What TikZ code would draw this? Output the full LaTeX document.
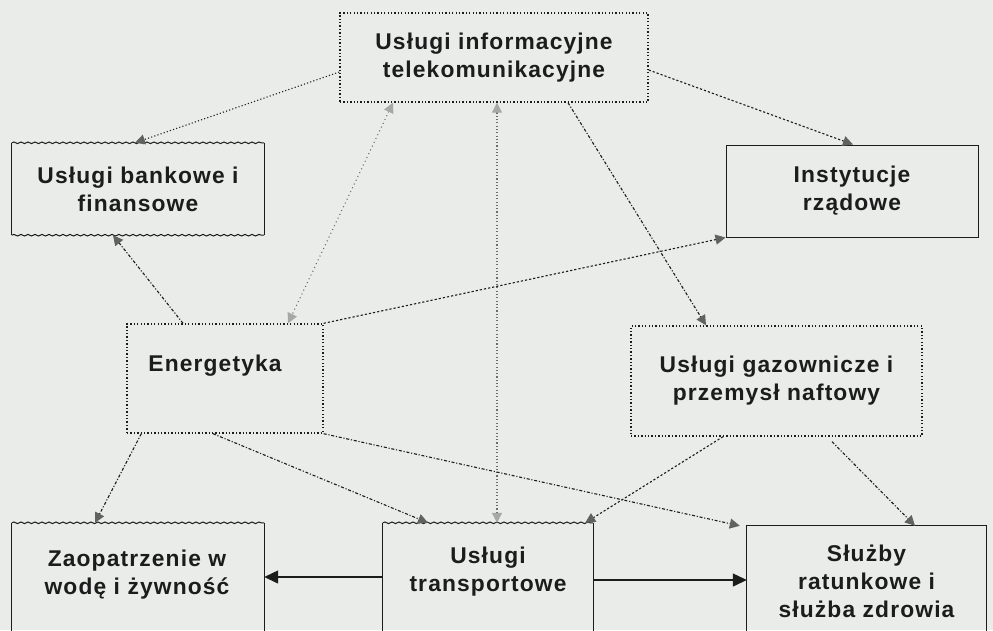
\documentclass[tikz,border=0pt]{standalone}
\usepackage{fontspec}
\setmainfont{Liberation Sans}[LetterSpace=5]
\usetikzlibrary{arrows.meta,decorations.pathmorphing,calc}
\definecolor{paper}{RGB}{233,236,233}
\definecolor{ink}{RGB}{28,28,28}
\definecolor{headdark}{RGB}{95,98,96}
\definecolor{headlight}{RGB}{165,168,166}
\begin{document}
\begin{tikzpicture}[x=1pt,y=-1pt,
  txt/.style={font=\bfseries\fontsize{22.8}{28}\selectfont, text=ink, align=center},
  boxbase/.style={inner sep=0pt, minimum width=#1},
  dotbox/.style={draw=ink, line width=1.4pt, dash pattern=on 1.3pt off 2.1pt},
  solidbox/.style={draw=ink, line width=1pt},
  wave/.style={draw=ink, line width=1pt, decorate, decoration={snake, amplitude=0.8pt, segment length=7pt}},
  link/.style={draw=ink, line width=1.1pt, -{Triangle[length=10pt,width=10pt,color=headdark]}},
  linklight/.style={draw=ink!65, line width=1.1pt, {Triangle[length=10pt,width=10pt,color=headlight]}-{Triangle[length=10pt,width=10pt,color=headlight]}},
  dots/.style={dash pattern=on 1.1pt off 2.2pt},
  sparse/.style={dash pattern=on 1pt off 3.2pt},
  dashes/.style={dash pattern=on 2.2pt off 2pt},
  dashdot/.style={dash pattern=on 3pt off 1.8pt on 1.1pt off 1.8pt},
  flow/.style={draw=ink, line width=1.2pt, -{Triangle[length=14pt,width=13pt]}}
]
\path[use as bounding box, fill=paper] (0,0) rectangle (993,630);
\clip (0,0) rectangle (993,630);

% boxes
\node[boxbase=308pt, minimum height=89pt, dotbox, txt] (top) at (494,57.5)
  {Usługi informacyjne\\telekomunikacyjne};
\node[boxbase=252pt, minimum height=92pt, txt] (bank) at (138,189)
  {Usługi bankowe i\\finansowe};
\node[boxbase=252pt, minimum height=92pt, solidbox, txt] (inst) at (852,191)
  {Instytucje\\rządowe};
\node[boxbase=196pt, minimum height=109pt, dotbox] (energ) at (225,378.5) {};
\node[txt] (energt) at (215,366) {Energetyka};
\node[boxbase=291pt, minimum height=110pt, dotbox, txt] (gas) at (776.5,381)
  {Usługi gazownicze i\\przemysł naftowy};
\node[boxbase=252pt, minimum height=127pt] (water) at (138,586.5) {};
\node[boxbase=210pt, minimum height=127pt] (trans) at (488,586.5) {};
\node[boxbase=239pt, minimum height=124pt] (sluz) at (866.5,588) {};

\node[txt] (watert) at (137,575) {Zaopatrzenie w\\wodę i żywność};
\node[txt] (transt) at (488,572) {Usługi\\transportowe};
\node[txt] (sluzt) at (866.5,581) {Służby\\ratunkowe i\\służba zdrowia};

% box borders drawn edge by edge
\draw[wave] (bank.north west) -- (bank.north east);
\draw[wave] (bank.south west) -- (bank.south east);
\draw[solidbox] (bank.north west) -- (bank.south west) (bank.north east) -- (bank.south east);

\draw[wave] (water.north west) -- (water.north east);
\draw[solidbox] (water.north west) -- (water.south west) (water.north east) -- (water.south east);

\draw[wave] (trans.north west) -- (trans.north east);
\draw[solidbox] (trans.north west) -- (trans.south west) (trans.north east) -- (trans.south east);

\draw[solidbox] (sluz.south west) -- (sluz.north west) -- (sluz.north east) -- (sluz.south east);

% connectors from the telecommunication box
\draw[link, dots] ($(top.west)+(0,14.5)$) -- ($(bank.north)+(-3,0)$);
\draw[link, dashes] ($(top.east)+(0,12.5)$) -- ($(inst.north)+(1,0)$);
\draw[linklight, sparse] ($(top.south)+(-101,0)$) -- ($(energ.north)+(63,0)$);
\draw[linklight, dots] ($(top.south)+(3,0)$) -- ($(trans.north)+(9,0)$);
\draw[link, dashdot] ($(top.south)+(74,0)$) -- ($(gas.north)+(-70.5,0)$);

% connectors from the energy box
\draw[link, dashdot] ($(energ.north)+(-42,0)$) -- ($(bank.south)+(-25,0)$);
\draw[link, dashes] (energ.north east) -- (inst.south west);
\draw[link, dashdot] ($(energ.south west)+(15,0)$) -- ($(water.north)+(-43,0)$);
\draw[link, dashdot] ($(energ.south)+(-12,0)$) -- ($(trans.north)+(-60,0)$);
\draw[link, dashdot] (energ.south east) -- ($(sluz.north west)+(-7,0)$);

% connectors from the gas box
\draw[link, dashes] ($(gas.south)+(-53.5,0)$) -- ($(trans.north east)+(-8,0)$);
\draw[link, dashdot] ($(gas.south)+(55.5,5)$) -- ($(sluz.north)+(48.5,0)$);

% transport flows
\draw[flow] ($(trans.west)+(0,-9.5)$) -- ($(water.east)+(0,-9.5)$);
\draw[flow] ($(trans.east)+(0,-6.5)$) -- ($(sluz.west)+(0,-8)$);
\end{tikzpicture}
\end{document}
